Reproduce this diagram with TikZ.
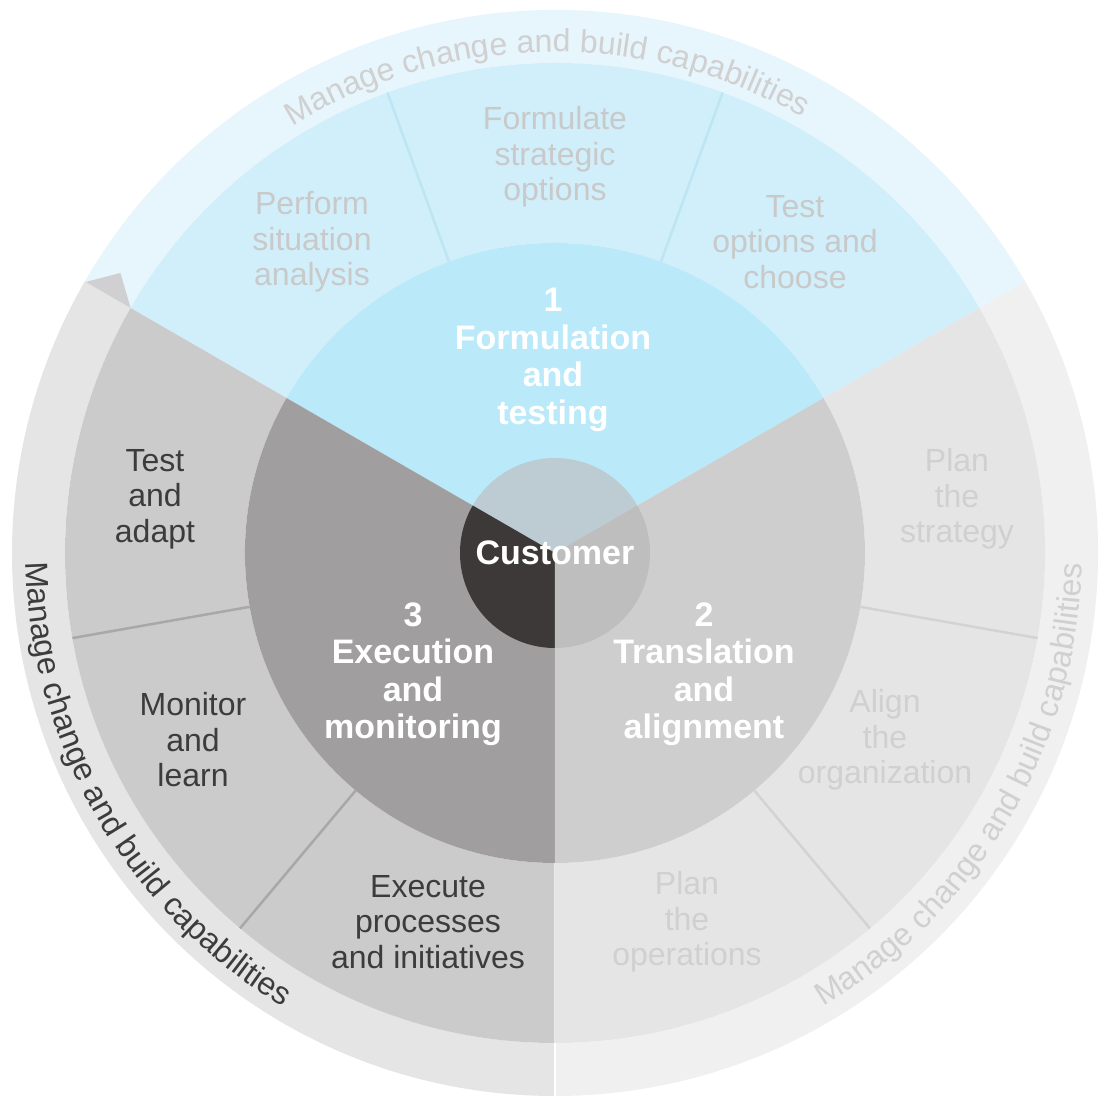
\documentclass[tikz,border=0pt]{standalone}
\usepackage{fontspec}
\setmainfont{Liberation Sans}
\usetikzlibrary{decorations.text}

\definecolor{ringblue}{HTML}{E7F5FC}
\definecolor{segblue}{HTML}{D0EFFA}
\definecolor{coreblue}{HTML}{BAE9F9}
\definecolor{ringleft}{HTML}{E5E5E5}
\definecolor{segleft}{HTML}{CBCBCB}
\definecolor{coreleft}{HTML}{A09E9F}
\definecolor{ringright}{HTML}{F0F0F0}
\definecolor{segright}{HTML}{E5E5E5}
\definecolor{coreright}{HTML}{CECECE}
\definecolor{custblue}{HTML}{BDCCD3}
\definecolor{custright}{HTML}{BEBEBE}
\definecolor{custleft}{HTML}{3D3938}
\definecolor{arrowgray}{HTML}{D0D0D3}
\definecolor{divblue}{HTML}{BDE5F4}
\definecolor{divright}{HTML}{D3D3D3}
\definecolor{divleft}{HTML}{A8A8A8}
\definecolor{textblue}{HTML}{C9C9C9}
\definecolor{textlight}{HTML}{D0D0D0}
\definecolor{textdark}{HTML}{3C3C3C}

% colour, start angle, end angle, inner radius, outer radius
\newcommand{\ringpiece}[5]{%
  \fill[#1] (#2:#4) arc[start angle=#2, end angle=#3, radius=#4]
    -- (#3:#5) arc[start angle=#3, end angle=#2, radius=#5] -- cycle;}

\tikzset{
  steptext/.style={align=center, font=\fontsize{32}{35.5}\selectfont},
  phasetext/.style={align=center, text=white, font=\fontsize{34}{37.5}\selectfont\bfseries},
  curvetext/.style={decorate, decoration={text along path, text align=center,
      text color=#1, text={|\fontsize{32}{32}\selectfont|Manage change and build capabilities}}},
}

\begin{document}
\begin{tikzpicture}[x=1pt, y=1pt]
    \useasboundingbox (-555,-556) rectangle (554,553);

    % outer ring
    \ringpiece{ringblue}{30}{150}{490}{543}
    \ringpiece{ringleft}{150}{270}{490}{543}
    \ringpiece{ringright}{-90}{30}{490}{543}
    \fill[arrowgray] (150:490) -- (150:542) -- (147.2:517) -- cycle;

    % step ring
    \ringpiece{segblue}{30}{150}{310}{490}
    \ringpiece{segleft}{150}{270}{310}{490}
    \ringpiece{segright}{-90}{30}{310}{490}

    % phases
    \fill[coreblue] (0,0) -- (30:310) arc[start angle=30, end angle=150, radius=310] -- cycle;
    \fill[coreleft] (0,0) -- (150:310) arc[start angle=150, end angle=270, radius=310] -- cycle;
    \fill[coreright] (0,0) -- (-90:310) arc[start angle=-90, end angle=30, radius=310] -- cycle;

    % customer
    \fill[custblue] (0,0) -- (30:95) arc[start angle=30, end angle=150, radius=95] -- cycle;
    \fill[custleft] (0,0) -- (150:95) arc[start angle=150, end angle=270, radius=95] -- cycle;
    \fill[custright] (0,0) -- (-90:95) arc[start angle=-90, end angle=30, radius=95] -- cycle;

    % dividers
    \foreach \a in {70, 110}
        \draw[divblue, line width=2.5] (\a:310) -- (\a:490);
    \foreach \a in {-10, -50}
        \draw[divright, line width=2.5] (\a:310) -- (\a:490);
    \foreach \a in {190, 230}
        \draw[divleft, line width=2.5] (\a:310) -- (\a:490);
    \draw[white!60!segleft, line width=1] (270:310) -- (270:490);
    \draw[white, line width=1.5] (270:490) -- (270:544);

    % ring texts
    \path[curvetext=textlight] (151:501) arc[start angle=151, end angle=31, radius=501];
    \path[curvetext=textdark] (149:529) arc[start angle=149, end angle=271, radius=529];
    \path[curvetext=textlight] (-91:527) arc[start angle=-91, end angle=30.4, radius=527];

    % steps
    \node[steptext, text=textblue] (perform) at (-243, 311) {Perform\\situation\\analysis};
    \node[steptext, text=textblue] (formulate) at (0, 396) {Formulate\\strategic\\options};
    \node[steptext, text=textblue] (choose) at (240, 311) {Test\\options and\\choose};
    \node[steptext, text=textlight] (planstrat) at (402, 54) {Plan\\the\\strategy};
    \node[steptext, text=textlight] (align) at (330, -187) {Align\\the\\organization};
    \node[steptext, text=textlight] (planops) at (132, -369) {Plan\\the\\operations};
    \node[steptext, text=textdark] (adapt) at (-400, 54) {Test\\and\\adapt};
    \node[steptext, text=textdark] (monitor) at (-362, -187) {Monitor\\and\\learn};
    \node[steptext, text=textdark] (execute) at (-127, -369) {Execute\\processes\\and initiatives};

    % phases and centre
    \node[phasetext] (formulation) at (-2, 193) {1\\Formulation\\and\\testing};
    \node[phasetext] (translation) at (149, -121) {2\\Translation\\and\\alignment};
    \node[phasetext] (execution) at (-142, -121) {3\\Execution\\and\\monitoring};
    \node[phasetext] (customer) at (0, 0) {Customer};
\end{tikzpicture}
\end{document}
